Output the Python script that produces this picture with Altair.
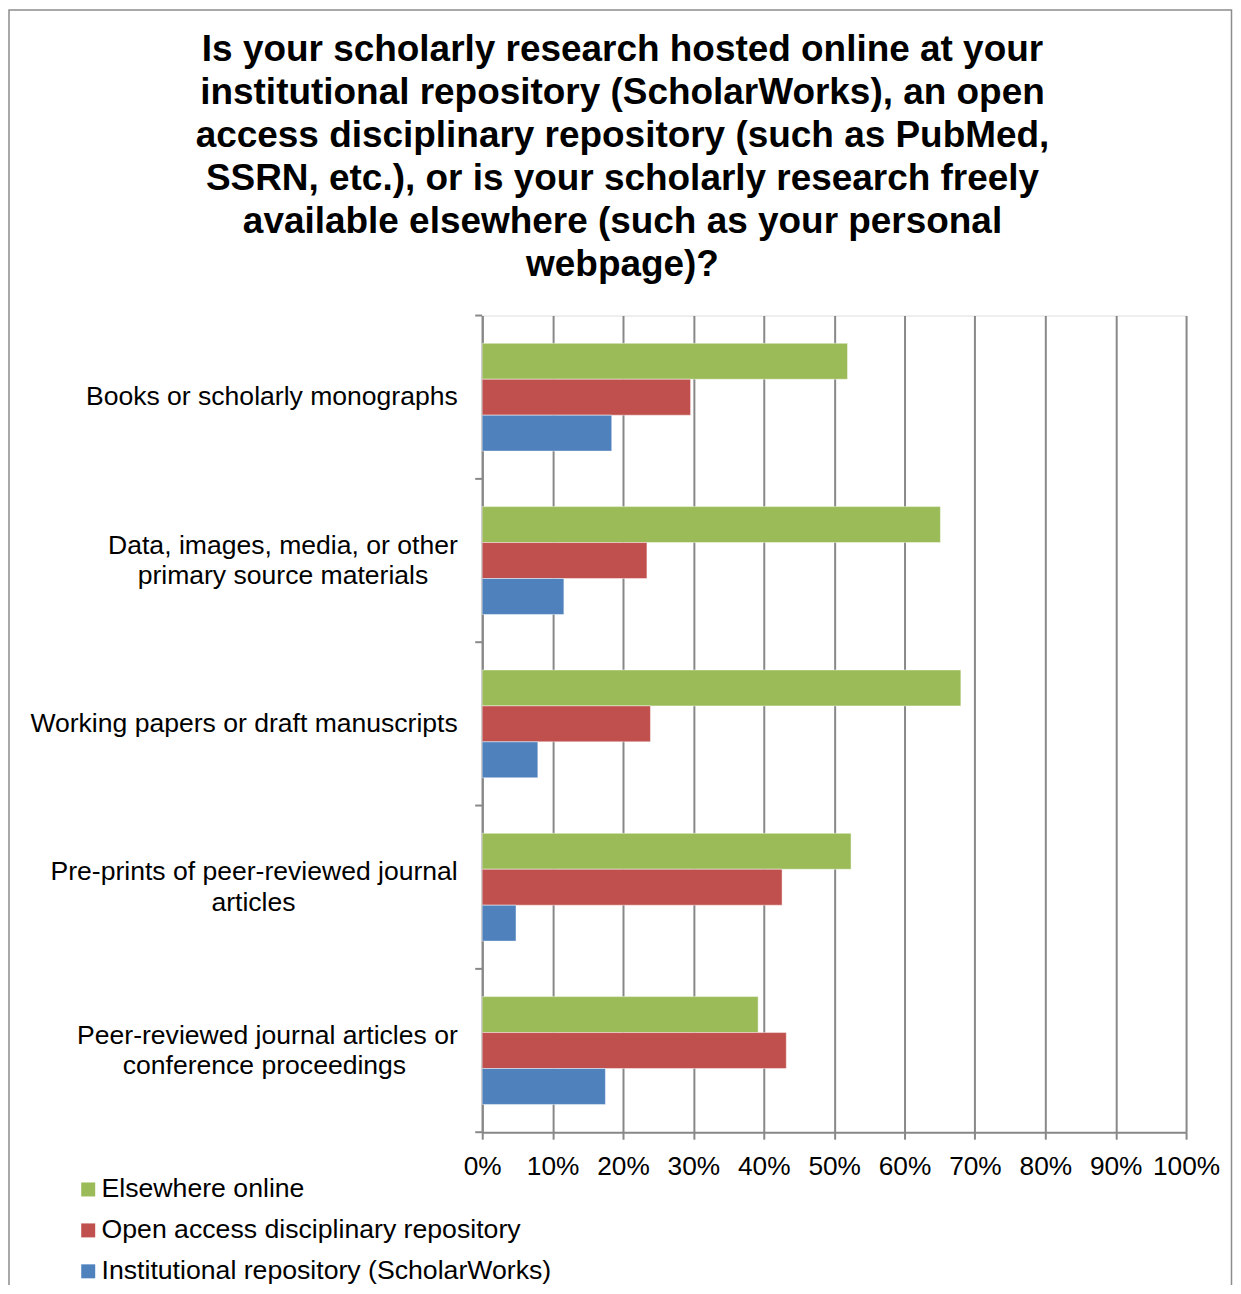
import json
import altair as alt
import pandas as pd

# ---------------- data ----------------
CATEGORIES = [
    "Books or scholarly monographs",
    "Data, images, media, or other primary source materials",
    "Working papers or draft manuscripts",
    "Pre-prints of peer-reviewed journal articles",
    "Peer-reviewed journal articles or conference proceedings",
]
SERIES = [
    "Elsewhere online",
    "Open access disciplinary repository",
    "Institutional repository (ScholarWorks)",
]
COLORS = ["#9BBB59", "#C0504D", "#4F81BD"]

ELSEWHERE = [51.9, 65.1, 68.0, 52.4, 39.2]
OPEN_ACCESS = [29.6, 23.4, 23.9, 42.6, 43.2]
INSTITUTIONAL = [18.4, 11.6, 7.9, 4.8, 17.5]

TICKS = [0, 10, 20, 30, 40, 50, 60, 70, 80, 90, 100]

TITLE_LINES = [
    "Is your scholarly research hosted online at your",
    "institutional repository (ScholarWorks), an open",
    "access disciplinary repository (such as PubMed,",
    "SSRN, etc.), or is your scholarly research freely",
    "available elsewhere (such as your personal",
    "webpage)?",
]

# trailing non-breaking spaces (protected by a zero-width space) centre the
# shorter second line under the first one
NB = "\u00a0"
ZW = "\u200b"
LABEL_LINES = [
    ["Books or scholarly monographs"],
    ["Data, images, media, or other", "primary source materials" + NB * 4 + ZW],
    ["Working papers or draft manuscripts"],
    ["Pre-prints of peer-reviewed journal", "articles" + NB * 22 + ZW],
    ["Peer-reviewed journal articles or", "conference proceedings" + NB * 7 + ZW],
]

FONT = "Liberation Sans"
GRID = "#888888"

# ---------------- tables ----------------
rows = []
for i, cat in enumerate(CATEGORIES):
    for s, vals in zip(SERIES, [ELSEWHERE, OPEN_ACCESS, INSTITUTIONAL]):
        rows.append({"category": cat, "series": s, "value": vals[i] / 100.0})
df = pd.DataFrame(rows)
df_cats = pd.DataFrame({"category": CATEGORIES})
df_last = pd.DataFrame({"category": CATEGORIES[-1:]})

# label expression (multi-line labels)
parts = []
for cat, lines in zip(CATEGORIES, LABEL_LINES):
    parts.append(f"datum.value == {json.dumps(cat)} ? {json.dumps(lines, ensure_ascii=False)}")
label_expr = " : ".join(parts) + " : datum.label"
two_line = [c for c, l in zip(CATEGORIES, LABEL_LINES) if len(l) > 1]
two_line_test = f"indexof({json.dumps(two_line)}, datum.value) >= 0"

# ---------------- layers ----------------
frame = alt.Chart(df_last).mark_rect(
    fillOpacity=0, stroke="#8c8c8c", strokeWidth=1.5
).encode(
    x=alt.value(-474), x2=alt.value(750.5),
    y=alt.value(-306), y2=alt.value(1100),
)

bars = alt.Chart(df).mark_bar(stroke="white", strokeWidth=1, strokeOpacity=0.45).encode(
    y=alt.Y(
        "category:N",
        sort=CATEGORIES,
        title=None,
        scale=alt.Scale(paddingInner=0, paddingOuter=0),
        axis=alt.Axis(
            labelExpr=label_expr,
            labelFont=FONT,
            labelFontSize=26.6,
            labelColor="black",
            labelLineHeight=31,
            labelPadding=25,
            labelLimit=1000,
            labelOverlap=False,
            labelOffset={"condition": {"test": two_line_test, "value": -15}, "value": 0},
            ticks=False,
            domainColor=GRID,
            domainWidth=2,
            grid=False,
        ),
    ),
    yOffset=alt.YOffset(
        "series:N", sort=SERIES, scale=alt.Scale(paddingInner=0, paddingOuter=0.772)
    ),
    x=alt.X(
        "value:Q",
        title=None,
        scale=alt.Scale(domain=[0, 1], nice=False),
        axis=alt.Axis(
            values=[t / 100.0 for t in TICKS],
            format=".0%",
            grid=True,
            gridColor=GRID,
            gridWidth=2,
            domainColor=GRID,
            domainWidth=2,
            tickColor=GRID,
            tickWidth=2,
            tickSize=7,
            labelFont=FONT,
            labelFontSize=26.3,
            labelColor="black",
            labelPadding=14,
            labelFlush=False,
            labelOverlap=False,
            labelBound=False,
        ),
    ),
    color=alt.Color(
        "series:N",
        sort=SERIES,
        scale=alt.Scale(domain=SERIES, range=COLORS),
        legend=alt.Legend(
            title=None,
            orient="none",
            legendX=-408,
            legendY=862,
            direction="vertical",
            symbolType="square",
            symbolSize=196,
            symbolStrokeWidth=0,
            symbolOpacity=1,
            labelFont=FONT,
            labelFontSize=26.7,
            labelColor="black",
            labelOffset=0,
            labelLimit=1000,
            rowPadding=13,
            padding=0,
        ),
    ),
)

band_ticks = alt.Chart(df_cats).mark_rule(color=GRID, strokeWidth=2).encode(
    y=alt.Y("category:N", sort=CATEGORIES, bandPosition=0, title=None),
    x=alt.value(-7),
    x2=alt.value(0),
)
last_tick = alt.Chart(df_last).mark_rule(color=GRID, strokeWidth=2).encode(
    y=alt.Y("category:N", sort=CATEGORIES, bandPosition=1, title=None),
    x=alt.value(-7),
    x2=alt.value(0),
)

chart = (
    alt.layer(frame, bars, band_ticks, last_tick)
    .properties(
        width=705,
        height=818,
        autosize=alt.AutoSizeParams(type="none"),
        padding={"left": 475, "top": 307, "right": 47, "bottom": 152},
        title=alt.TitleParams(
            text=TITLE_LINES,
            font=FONT,
            fontSize=37,
            fontWeight="bold",
            lineHeight=43,
            color="black",
            anchor="middle",
            frame="group",
            dx=-212,
            offset=-275,
        ),
    )
    .configure_view(strokeWidth=0)
    .configure(background="white")
)

chart.save("out.html", embed_options={"renderer": "svg", "actions": False})
